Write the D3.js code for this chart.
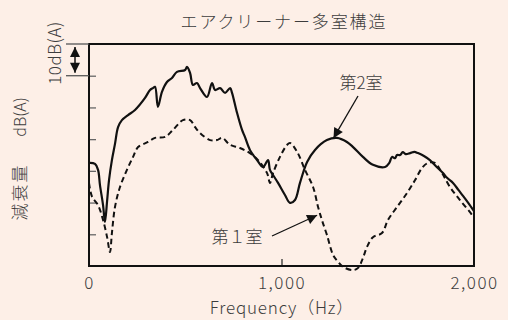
<!DOCTYPE html>
<html><head><meta charset="utf-8">
<script src="https://cdn.jsdelivr.net/npm/d3@7"></script>
<style>
html,body{margin:0;padding:0;background:#fdefe7;}
svg{display:block;}
text{font-family:"Noto Sans CJK JP","Noto Sans",sans-serif;fill:#3c3c3c;font-weight:300;}
</style></head>
<body>
<script>
// ---- data ----
const title = "エアクリーナー多室構造";
const xTicks = [0, 1000, 2000];
const xTickLabels = ["0", "1,000", "2,000"];
const yTicks = [10, 20, 30, 40, 50, 60];
const xLabel = "Frequency（Hz）";
const yLabelUnit = "dB(A)";
const yLabelName = "減衰量";
const scaleLabel = "10dB(A)";
const room2Label = "第2室";
const room1Label = "第１室";
// 第2室 (solid) : frequency [Hz], attenuation [dB]
const room2Freq = [0,31,47,57,73,83,94,104,119,135,151,171,203,239,291,317,332,343,358,379,405,431,457,499,509,525,540,561,577,613,639,655,681,707,733,743,769,795,810,836,873,904,930,940,956,982,1018,1044,1070,1096,1133,1174,1236,1288,1340,1372,1423,1475,1538,1560,1574,1590,1600,1616,1630,1645,1668,1690,1709,1740,1771,1800,1839,1860,1891,1920,1943,1970,2000];
const room2dB   = [32.5,32.2,30.3,25.5,19.2,13.9,20.5,27.1,33.4,38.5,43.8,46.0,47.6,49.2,53.0,55.5,56.1,56.5,50.2,54.9,58.0,59.3,61.2,61.8,62.8,60.9,57.1,57.7,56.1,53.3,57.7,55.5,56.1,54.6,56.1,54.6,48.3,42.9,40.7,36.6,33.4,31.2,33.4,30.3,28.7,26.2,22.4,19.9,20.8,26.2,32.8,36.6,39.7,40.4,39.1,37.5,34.4,31.9,31.2,32.5,34.4,34.0,35.0,35.0,35.9,35.3,35.6,36.0,35.6,34.7,33.4,31.6,29.3,27.8,26.2,23.9,22.1,19.9,17.3];
// 第1室 (dashed)
const room1Freq = [0,16,47,73,94,109,119,135,161,197,229,255,306,343,395,436,488,525,551,577,629,665,691,733,784,836,878,925,940,956,992,1029,1044,1081,1122,1164,1190,1210,1236,1268,1294,1320,1372,1398,1423,1444,1475,1522,1553,1600,1652,1694,1730,1761,1797,1834,1875,1927,1990,2000];
const room1dB   = [26.2,21.8,19.2,14.5,9.1,4.4,10.4,18.6,24.9,30.3,34.4,37.5,39.1,40.4,40.7,42.9,46.0,46.0,43.8,41.9,39.7,39.7,40.4,38.2,37.2,35.6,33.4,29.3,26.2,29.3,34.4,38.2,38.8,36.0,30.3,24.9,18.6,14.5,9.8,3.5,1.3,-0.3,-1.3,-0.6,2.5,6.0,9.1,10.4,14.5,18.6,23.0,27.1,30.9,32.5,32.5,29.3,24.9,20.8,16.1,15.1];

const W = 508, H = 320;
const svg = d3.select("body").append("svg").attr("width", W).attr("height", H);
svg.append("defs").append("marker")
  .attr("id","ah").attr("viewBox","0 0 10 10").attr("refX",10).attr("refY",5)
  .attr("markerWidth",14).attr("markerHeight",10).attr("markerUnits","userSpaceOnUse")
  .attr("orient","auto-start-reverse")
  .append("path").attr("d","M0,0 L10,5 L0,10 Z").attr("fill","#111");

const x = d3.scaleLinear().domain([0, 2000]).range([89, 474]);
const y = d3.scaleLinear().domain([0, 70]).range([266, 44]);

// title
svg.append("text").attr("x", 283).attr("y", 28).attr("text-anchor","middle")
  .attr("font-size", 17).attr("textLength", 205).attr("lengthAdjust","spacing").text(title);

// y ticks (inside)
const ya = svg.append("g").attr("transform", `translate(${x(0)},0)`)
  .call(d3.axisLeft(y).tickValues(yTicks).tickSize(-7).tickFormat(""));
ya.select(".domain").remove();
ya.selectAll(".tick line").attr("stroke","#666").attr("stroke-width",1.3);

// x axis ticks + labels
const xa = svg.append("g").attr("transform", `translate(0,${y(0)})`)
  .call(d3.axisBottom(x).tickValues(xTicks).tickSize(-7).tickPadding(11)
    .tickFormat((d,i) => xTickLabels[i]));
xa.select(".domain").remove();
xa.selectAll(".tick line").attr("stroke","#222").attr("stroke-width",1.2)
  .attr("opacity", d => (d === 0 || d === 2000) ? 0 : 1);
xa.selectAll(".tick text").attr("font-size", 17).attr("fill","#3c3c3c")
  .attr("font-family","\"Noto Sans CJK JP\",sans-serif").attr("font-weight",300).attr("letter-spacing", 1.5);

// frame
svg.append("rect").attr("x", x(0)).attr("y", y(70)).attr("width", x(2000)-x(0)).attr("height", y(0)-y(70))
  .attr("fill","none").attr("stroke","#111").attr("stroke-width",2);

// 10dB bracket
[70, 60].forEach(v => svg.append("line").attr("x1", 66).attr("x2", x(0)).attr("y1", y(v)).attr("y2", y(v))
  .attr("stroke","#555").attr("stroke-width",1.3));
svg.append("line").attr("x1", 75).attr("x2", 75).attr("y1", y(70)+3).attr("y2", y(60)-3)
  .attr("stroke","#111").attr("stroke-width",1.5)
  .attr("marker-start","url(#ah)").attr("marker-end","url(#ah)");

// curves
const line = d3.line().x(d => x(d[0])).y(d => y(d[1])).curve(d3.curveCatmullRom.alpha(0.5));
svg.append("path").datum(room1Freq.map((f,i)=>[f, room1dB[i]]))
  .attr("d", line).attr("fill","none").attr("stroke","#111").attr("stroke-width",2)
  .attr("stroke-dasharray","5.5,3.5");
svg.append("path").datum(room2Freq.map((f,i)=>[f, room2dB[i]]))
  .attr("d", line).attr("fill","none").attr("stroke","#111").attr("stroke-width",2.2);

// labels with arrows
svg.append("text").attr("x", 361).attr("y", 89).attr("text-anchor","middle").attr("font-size",17).text(room2Label);
svg.append("line").attr("x1", 358).attr("y1", 96).attr("x2", x(1270)).attr("y2", y(40.3))
  .attr("stroke","#111").attr("stroke-width",1.3).attr("marker-end","url(#ah)");
svg.append("text").attr("x", 237).attr("y", 243).attr("text-anchor","middle").attr("font-size",17).text(room1Label);
svg.append("line").attr("x1", 272).attr("y1", 236).attr("x2", x(1185)).attr("y2", y(16))
  .attr("stroke","#111").attr("stroke-width",1.3).attr("marker-end","url(#ah)");

// axis titles
svg.append("text").attr("x", 282).attr("y", 314).attr("text-anchor","middle").attr("font-size",17)
  .attr("letter-spacing", 0.8).text(xLabel);
svg.append("text").attr("transform","translate(26,117) rotate(-90)").attr("text-anchor","middle")
  .attr("font-size",16).text(yLabelUnit);
svg.append("text").attr("transform","translate(26,192) rotate(-90)").attr("text-anchor","middle")
  .attr("font-size",17).attr("letter-spacing",2).text(yLabelName);
svg.append("text").attr("transform","translate(61,53) rotate(-90)").attr("text-anchor","middle")
  .attr("font-size",17).attr("letter-spacing",0.5).text(scaleLabel);
</script>
</body></html>
